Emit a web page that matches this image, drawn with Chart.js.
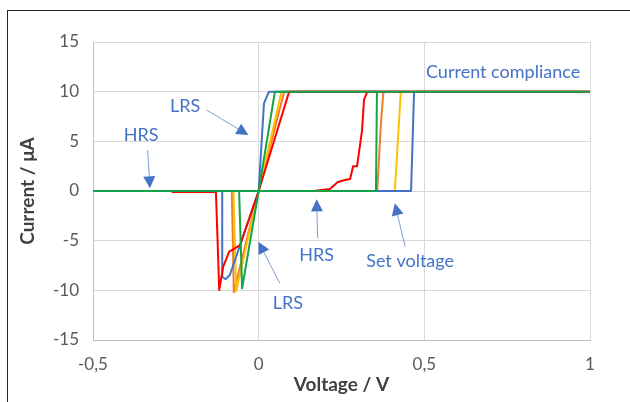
<!DOCTYPE html>
<html>
<head>
<meta charset="utf-8">
<script src="https://cdn.jsdelivr.net/npm/chart.js@4/dist/chart.umd.min.js"></script>
<style>
    body { margin: 0; background: #fff; }
    .wrap { position: relative; width: 630px; height: 402px; }
    .frame {
        position: absolute; left: 7px; top: 10px; right: 0; bottom: 0;
        border-left: 1.5px solid #262626; border-top: 1.5px solid #262626;
        pointer-events: none;
    }
</style>
</head>
<body>
<div class="wrap">
    <canvas id="chart" width="630" height="402"></canvas>
    <div class="frame"></div>
</div>
<script>
// Axis ticks
const voltageTicks = [-0.5, 0, 0.5, 1];
const currentTicks = [-15, -10, -5, 0, 5, 10, 15];

// Sweep paths (voltage in V, current in uA)
const greenV = [0, 0.354, 0.357, 1, 0.049, 0, -0.05, -0.059, -0.5, 0];
const greenI = [0, 0, 10, 10, 10, 0, -9.8, 0, 0, 0];

const redV = [0, 0.165, 0.215, 0.239, 0.26, 0.276, 0.285, 0.297, 0.312, 0.318, 0.327, 0.332, 1, 0.092, 0, -0.056, -0.072, -0.089, -0.107, -0.119, -0.129, -0.26, -0.265, -0.5, 0];
const redI = [0, 0, 0.2, 0.9, 1.1, 1.2, 2.5, 2.5, 6.1, 9.2, 9.9, 10, 10, 10, 0, -5.44, -5.77, -6.11, -7.62, -9.97, -0.1, -0.1, 0, 0, 0];

const blueV = [0, 0.46, 0.469, 1, 0.031, 0.016, 0, -0.087, -0.1, -0.11, -0.11, -0.5, 0];
const blueI = [0, 0, 10, 10, 10, 8.83, 0, -8.46, -8.89, -8.63, 0, 0, 0];

const yellowV = [0, 0.411, 0.429, 1, 0.069, 0, -0.068, -0.076, -0.5, 0];
const yellowI = [0, 0, 10, 10, 10, 0, -10.1, 0, 0, 0];

const orangeV = [0, 0.358, 0.369, 0.376, 0.38, 1, 0.077, 0, -0.075, -0.081, -0.5, 0];
const orangeI = [0, 0, 6.8, 9.8, 10, 10, 10, 0, -10.2, 0, 0, 0];

// Callouts: text anchor and arrow (tail -> tip), in data units
const callouts = [
    { text: 'Current compliance', x: 0.505, y: 11.98, align: 'left' },
    { text: 'LRS', x: -0.222, y: 8.49, from: [-0.157, 8.15], to: [-0.031, 5.64] },
    { text: 'HRS', x: -0.355, y: 5.64, from: [-0.335, 4.13], to: [-0.328, 0.27] },
    { text: 'LRS', x: 0.088, y: -11.3, from: [0.064, -9.29], to: [-0.001, -5.1] },
    { text: 'HRS', x: 0.175, y: -6.44, from: [0.178, -4.76], to: [0.175, -0.84] },
    { text: 'Set voltage', x: 0.457, y: -7.05, from: [0.442, -5.61], to: [0.411, -1.24] }
];

const FONT = "Lato, 'Open Sans', sans-serif";
const CALLOUT_COLOR = '#4472C4';

function toPoints(xs, ys) {
    return xs.map((x, i) => ({ x: x, y: ys[i] }));
}

function series(label, xs, ys, color, order) {
    return {
        label: label,
        data: toPoints(xs, ys),
        borderColor: color,
        backgroundColor: color,
        borderWidth: 2,
        borderJoinStyle: 'round',
        borderCapStyle: 'round',
        pointRadius: 0,
        showLine: true,
        tension: 0,
        order: order
    };
}

const calloutPlugin = {
    id: 'callouts',
    afterDatasetsDraw(chart) {
        const ctx = chart.ctx;
        const xs = chart.scales.x;
        const ys = chart.scales.y;
        ctx.save();
        ctx.font = `18px ${FONT}`;
        ctx.fillStyle = CALLOUT_COLOR;
        ctx.textBaseline = 'middle';
        callouts.forEach(c => {
            ctx.textAlign = c.align || 'center';
            ctx.fillText(c.text, xs.getPixelForValue(c.x), ys.getPixelForValue(c.y));
            if (!c.from) return;
            const x1 = xs.getPixelForValue(c.from[0]);
            const y1 = ys.getPixelForValue(c.from[1]);
            const x2 = xs.getPixelForValue(c.to[0]);
            const y2 = ys.getPixelForValue(c.to[1]);
            const ang = Math.atan2(y2 - y1, x2 - x1);
            const headLen = 12, headW = 6;
            const bx = x2 - headLen * Math.cos(ang);
            const by = y2 - headLen * Math.sin(ang);
            ctx.strokeStyle = '#7F9FD8';
            ctx.lineWidth = 1;
            ctx.beginPath();
            ctx.moveTo(x1, y1);
            ctx.lineTo(bx, by);
            ctx.stroke();
            ctx.beginPath();
            ctx.moveTo(x2, y2);
            ctx.lineTo(bx + headW * Math.sin(ang), by - headW * Math.cos(ang));
            ctx.lineTo(bx - headW * Math.sin(ang), by + headW * Math.cos(ang));
            ctx.closePath();
            ctx.fill();
        });
        ctx.restore();
    }
};

const ctx = document.getElementById('chart').getContext('2d');
new Chart(ctx, {
    type: 'scatter',
    data: {
        datasets: [
            series('Cycle 1', greenV, greenI, '#14A44A', 0),
            series('Cycle 2', redV, redI, '#FF0000', 1),
            series('Cycle 3', blueV, blueI, '#4472C4', 2),
            series('Cycle 4', yellowV, yellowI, '#FFC000', 3),
            series('Cycle 5', orangeV, orangeI, '#ED7D31', 4)
        ]
    },
    options: {
        responsive: false,
        animation: false,
        layout: { padding: { left: 14, right: 40, top: 42, bottom: 4 } },
        plugins: {
            legend: { display: false },
            tooltip: { enabled: false }
        },
        scales: {
            x: {
                type: 'linear',
                min: voltageTicks[0],
                max: voltageTicks[voltageTicks.length - 1],
                afterBuildTicks: (axis) => { axis.ticks = voltageTicks.map(v => ({ value: v })); },
                afterFit: (axis) => { axis.height = 58; },
                grid: { color: '#D9D9D9', drawTicks: false },
                border: { color: '#BFBFBF' },
                ticks: {
                    color: '#595959',
                    padding: 14,
                    font: { family: FONT, size: 17 },
                    callback: (v) => String(v).replace('.', ',')
                },
                title: {
                    display: true,
                    text: 'Voltage / V',
                    color: '#404040',
                    font: { family: FONT, size: 19, weight: 'bold' },
                    padding: { top: 0, bottom: 2 }
                }
            },
            y: {
                type: 'linear',
                min: currentTicks[0],
                max: currentTicks[currentTicks.length - 1],
                afterBuildTicks: (axis) => { axis.ticks = currentTicks.map(v => ({ value: v })); },
                afterFit: (axis) => { axis.width = 79; },
                grid: { color: '#D9D9D9', drawTicks: false },
                border: { color: '#BFBFBF' },
                ticks: {
                    color: '#595959',
                    padding: 14,
                    font: { family: FONT, size: 17 }
                },
                title: {
                    display: true,
                    text: 'Current / μA',
                    color: '#404040',
                    font: { family: FONT, size: 19, weight: 'bold' },
                    padding: { top: 2, bottom: 0 }
                }
            }
        }
    },
    plugins: [calloutPlugin]
});
</script>
</body>
</html>
